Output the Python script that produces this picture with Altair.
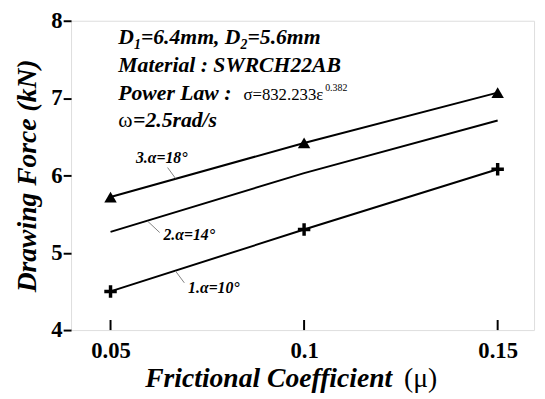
import altair as alt
import pandas as pd

# ---- data values ----
mu = [0.05, 0.10, 0.15]
force_a10 = [4.50, 5.30, 6.08]
force_a14 = [5.27, 6.03, 6.71]
force_a18 = [5.72, 6.42, 7.07]
x_ticks = [0.05, 0.10, 0.15]
y_ticks = [4, 5, 6, 7, 8]

FONT = "'Liberation Serif', 'Times New Roman', Times, 'DejaVu Serif', serif"
XDOM = [0.0398, 0.1594]
YDOM = [4, 8]

xs = alt.Scale(domain=XDOM, nice=False, zero=False)
ys = alt.Scale(domain=YDOM, nice=False, zero=False)

df_a10 = pd.DataFrame({"mu": mu, "F": force_a10, "s": "a10"})
df_a14 = pd.DataFrame({"mu": mu, "F": force_a14, "s": "a14"})
df_a18 = pd.DataFrame({"mu": mu, "F": force_a18, "s": "a18"})
lines_df = pd.concat([df_a10, df_a14, df_a18])

base_x = alt.X("mu:Q", scale=xs,
               axis=alt.Axis(values=x_ticks, format="~g", title=None, ticks=False,
                             domain=False, grid=False, labelFont=FONT, labelFontSize=23,
                             labelFontWeight="bold", labelColor="black", labelPadding=10))
base_y = alt.Y("F:Q", scale=ys,
               axis=alt.Axis(values=y_ticks, format="d", title="Drawing Force (kN)",
                             domain=False, grid=False, tickSize=8, tickWidth=2, tickColor="black",
                             labelFont=FONT, labelFontSize=23, labelFontWeight="bold",
                             labelColor="black", labelPadding=1,
                             titleFont=FONT, titleFontSize=28, titleFontWeight="bold",
                             titleFontStyle="italic", titleColor="black", titlePadding=10))

lines = alt.Chart(lines_df).mark_line(color="black", strokeWidth=2).encode(
    x=base_x, y=base_y, detail="s:N")

tri = alt.Chart(df_a18).mark_point(shape="triangle-up", filled=True, color="black",
                                   size=160, opacity=1).encode(
    x=alt.X("mu:Q", scale=xs), y=alt.Y("F:Q", scale=ys))

plus = alt.Chart(df_a10).mark_point(shape="M-1,0H1M0,-1V1", filled=False, color="black",
                                    strokeWidth=3.5, size=160, opacity=1).encode(
    x=alt.X("mu:Q", scale=xs), y=alt.Y("F:Q", scale=ys))

# inward x ticks
tick_df = pd.DataFrame({"mu": x_ticks, "y0": [4] * 3, "y1": [4.13] * 3})
xticks = alt.Chart(tick_df).mark_rule(color="black", strokeWidth=2).encode(
    x=alt.X("mu:Q", scale=xs), y=alt.Y("y0:Q", scale=ys), y2="y1:Q")

# leader lines for series labels
leader_df = pd.DataFrame({
    "x1": [0.06474, 0.05965, 0.06677],
    "y1": [6.102, 5.405, 4.764],
    "x2": [0.06677, 0.06270, 0.06906],
    "y2": [5.962, 5.261, 4.611],
})
leaders = alt.Chart(leader_df).mark_rule(color="#808080", strokeWidth=1).encode(
    x=alt.X("x1:Q", scale=xs), y=alt.Y("y1:Q", scale=ys), x2="x2:Q", y2="y2:Q")

series_labels = pd.DataFrame({
    "x": [0.06321, 0.07033, 0.07670],
    "y": [6.229, 5.223, 4.548],
    "t": ["3.\u03b1=18\u00b0", "2.\u03b1=14\u00b0", "1.\u03b1=10\u00b0"],
})
slabels = alt.Chart(series_labels).mark_text(font=FONT, fontSize=16, fontStyle="italic",
                                            fontWeight="bold", align="center",
                                            baseline="middle", color="black").encode(
    x=alt.X("x:Q", scale=xs), y=alt.Y("y:Q", scale=ys), text="t:N")


def text_layer(xv, yv, tv, **kw):
    d = pd.DataFrame({"x": xv, "y": yv, "t": tv})
    return alt.Chart(d).mark_text(font=FONT, align="left", baseline="alphabetic",
                                  color="black", **kw).encode(
        x=alt.X("x:Q", scale=xs), y=alt.Y("y:Q", scale=ys), text="t:N")


ann_bi = text_layer(
    [0.05201, 0.05784, 0.08537, 0.05201, 0.05201, 0.05583],
    [7.694, 7.694, 7.694, 7.338, 6.981, 6.624],
    ["D", "=6.4mm, D", "=5.6mm", "Material : SWRCH22AB", "Power Law :", "=2.5rad/s"],
    fontSize=22, fontWeight="bold", fontStyle="italic")
ann_sub = text_layer([0.05606, 0.08359], [7.694, 7.694], ["1", "2"],
                     fontSize=14, fontWeight="bold", fontStyle="italic", dy=5)
ann_sig = text_layer([0.08433], [6.981], ["\u03c3=832.233\u03b5"], fontSize=17)
ann_sup = text_layer([0.10545], [6.981], ["0.382"], fontSize=10, dy=-9)
ann_om = text_layer([0.05201], [6.624], ["\u03c9"], fontSize=22)

xt1 = alt.Chart(pd.DataFrame({"x": [0.12275], "y": [3.261], "t": ["Frictional Coefficient"]})).mark_text(
    font=FONT, fontSize=28, fontWeight="bold", fontStyle="italic", align="right",
    baseline="alphabetic", color="black").encode(
    x=alt.X("x:Q", scale=xs), y=alt.Y("y:Q", scale=ys), text="t:N")
xt2 = alt.Chart(pd.DataFrame({"x": [0.12581], "y": [3.261], "t": ["(\u03bc)"]})).mark_text(
    font=FONT, fontSize=28, align="left", baseline="alphabetic", color="black").encode(
    x=alt.X("x:Q", scale=xs), y=alt.Y("y:Q", scale=ys), text="t:N")

chart = alt.layer(
    lines, xticks, leaders, tri, plus, slabels,
    ann_bi, ann_sub, ann_sig, ann_sup, ann_om, xt1, xt2
).properties(
    width=470, height=314,
    autosize=alt.AutoSizeParams(type="none"),
    padding={"left": 64, "top": 10, "right": 3, "bottom": 65},
).configure_view(
    stroke="black", strokeWidth=2
).configure(background="white")

chart.save("out.html", embed_options={"renderer": "svg", "actions": False})
